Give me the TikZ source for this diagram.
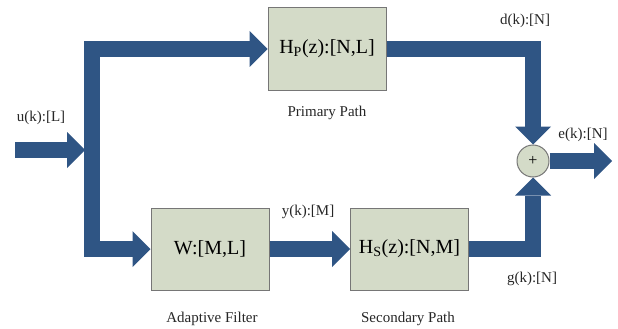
\documentclass[tikz,border=0pt]{standalone}
\usepackage{fontspec}
\setmainfont{Liberation Serif}
\usetikzlibrary{arrows.meta}
\definecolor{arrowblue}{RGB}{47,85,132}
\definecolor{boxfill}{RGB}{212,219,200}
\definecolor{boxline}{RGB}{118,118,118}
\begin{document}
\begin{tikzpicture}[x=1pt,y=-1pt,
 blk/.style={draw=boxline, fill=boxfill, line width=1pt, minimum width=118pt, minimum height=82pt, inner sep=0pt, font=\fontsize{20}{24}\selectfont},
 fat/.style={draw=arrowblue, line width=16.5pt, line join=miter, -{Triangle[length=18pt,width=36pt,line width=0pt]}},
 lbl/.style={font=\fontsize{15}{18}\selectfont, inner sep=0pt, text=black!85}]
\useasboundingbox (0,0) rectangle (618,329);
\node[blk] (P) at (327,49) {H\textsubscript{P}(z):[N,L]};
\node[blk] (W) at (210,249) {W:[M,L]};
\node[blk] (S) at (409.5,249) {H\textsubscript{S}(z):[N,M]};
\node[circle, draw=boxline, fill=boxfill, line width=1pt, minimum size=32pt, inner sep=0pt, font=\fontsize{16}{18}\selectfont] (sum) at (533,161) {+};
\coordinate (in) at (15,150);
\coordinate (trin) at (85,150);
\coordinate (tr) at (92,150);
\coordinate (out) at (612,161);
\draw[fat] (in) -- (trin);
\draw[fat] (tr) |- (P.west);
\draw[fat] (tr) |- (W.west);
\draw[fat] (P.east) -| (sum.north);
\draw[fat] (W.east) -- (S.west);
\draw[fat] (S.east) -| (sum.south);
\draw[fat] (sum.east) -- (out);
\node[lbl] (ulbl) at (41,118) {u(k):[L]};
\node[lbl] (plbl) at (327,113) {Primary Path};
\node[lbl] (dlbl) at (525,21) {d(k):[N]};
\node[lbl] (elbl) at (583,135) {e(k):[N]};
\node[lbl] (ylbl) at (308,212) {y(k):[M]};
\node[lbl] (glbl) at (532,279) {g(k):[N]};
\node[lbl] (wlbl) at (212,319) {Adaptive Filter};
\node[lbl] (slbl) at (408,319) {Secondary Path};
\end{tikzpicture}
\end{document}
